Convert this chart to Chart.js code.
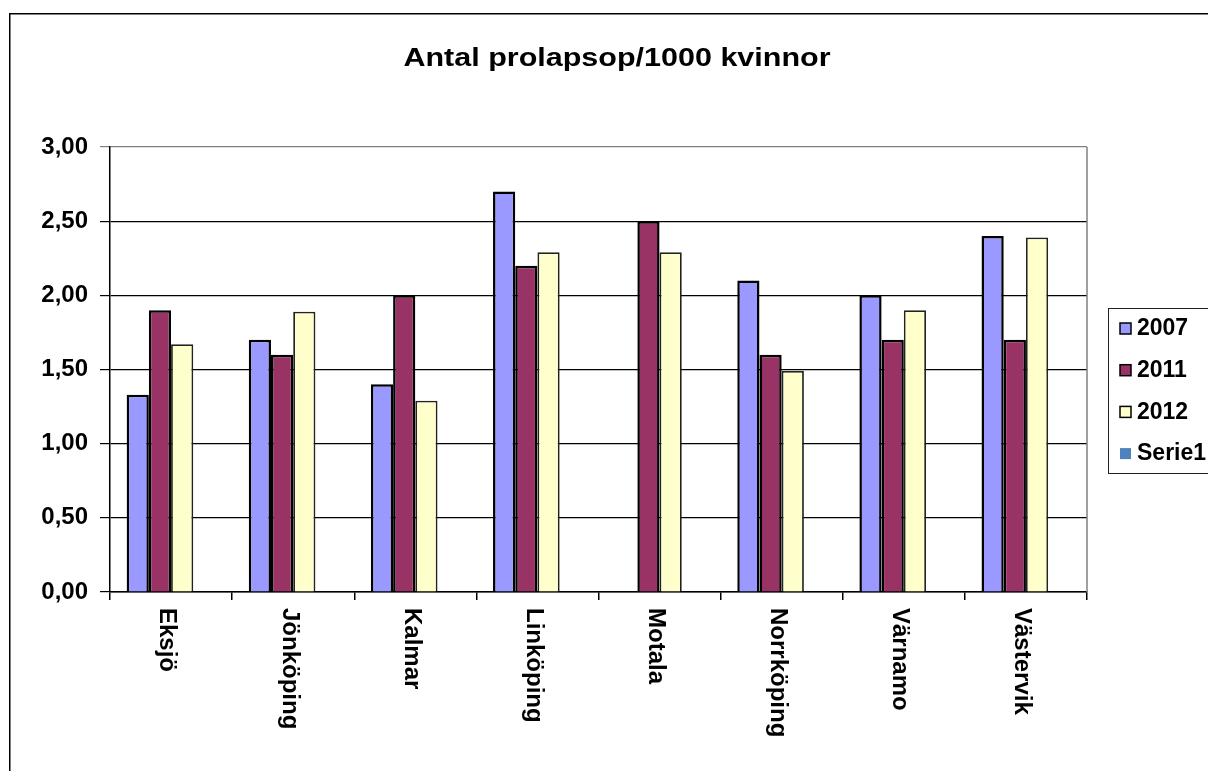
<!DOCTYPE html>
<html>
<head>
<meta charset="utf-8">
<title>Antal prolapsop/1000 kvinnor</title>
<script src="https://cdn.jsdelivr.net/npm/chart.js@4.4.1/dist/chart.umd.min.js"></script>
<style>
  body { margin: 0; background: #fff; }
  #wrap { width: 1208px; height: 771px; }
</style>
</head>
<body>
<div id="wrap"><canvas id="prolapsChart"></canvas></div>
<script>
// data
const chartTitle = 'Antal prolapsop/1000 kvinnor';
const clinics = ['Eksjö', 'Jönköping', 'Kalmar', 'Linköping', 'Motala', 'Norrköping', 'Värnamo', 'Västervik'];
const values2007 = [1.33, 1.70, 1.40, 2.70, null, 2.10, 2.00, 2.40];
const values2011 = [1.90, 1.60, 2.00, 2.20, 2.50, 1.60, 1.70, 1.70];
const values2012 = [1.67, 1.89, 1.29, 2.29, 2.29, 1.49, 1.90, 2.39];
const valuesSerie1 = [null, null, null, null, null, null, null, null]; // empty series, still takes a slot
const yMin = 0;
const yMax = 3;
const yStep = 0.5;

const FONT = "'Liberation Sans', Arial, sans-serif";

// draws the bits Excel has that Chart.js doesn't: frame, title, downward labels, boxed legend
const excelExtras = {
  id: 'excelExtras',
  afterDraw(chart) {
    const ctx = chart.ctx;
    const area = chart.chartArea;
    const xScale = chart.scales.x;
    ctx.save();

    // outer chart frame (cut off at right and bottom)
    ctx.strokeStyle = '#000';
    ctx.lineWidth = 1.5;
    ctx.beginPath();
    ctx.moveTo(9.75, 771);
    ctx.lineTo(9.75, 13.75);
    ctx.lineTo(1208, 13.75);
    ctx.stroke();

    // plot area right border
    ctx.strokeStyle = '#808080';
    ctx.lineWidth = 1.5;
    ctx.beginPath();
    ctx.moveTo(area.right, area.top);
    ctx.lineTo(area.right, area.bottom);
    ctx.stroke();

    // title, a bit wide like the original
    ctx.fillStyle = '#000';
    ctx.font = 'bold 25px ' + FONT;
    ctx.textAlign = 'center';
    ctx.textBaseline = 'alphabetic';
    ctx.save();
    ctx.translate(617, 66);
    ctx.scale(1.22, 1);
    ctx.fillText(chartTitle, 0, 0);
    ctx.restore();

    // category labels, read top to bottom
    ctx.font = 'bold 24px ' + FONT;
    ctx.textAlign = 'left';
    ctx.textBaseline = 'middle';
    clinics.forEach((name, i) => {
      const x = xScale.getPixelForValue(i) - 4;
      ctx.save();
      ctx.translate(x, area.bottom + 16);
      ctx.rotate(Math.PI / 2);
      ctx.fillText(name, 0, 0);
      ctx.restore();
    });

    // legend box
    ctx.strokeStyle = '#222';
    ctx.lineWidth = 1;
    ctx.strokeRect(1108.5, 308.5, 120, 165);
    ctx.font = 'bold 23px ' + FONT;
    chart.data.datasets.forEach((ds, i) => {
      const y = 328 + i * 41.7;
      ctx.fillStyle = ds.backgroundColor;
      ctx.fillRect(1120, y - 5, 11, 11);
      if (ds.borderWidth > 0) {
        ctx.strokeStyle = '#000';
        ctx.lineWidth = 1.5;
        ctx.strokeRect(1120, y - 5, 11, 11);
      }
      ctx.fillStyle = '#000';
      ctx.fillText(ds.label, 1137, y + 1);
    });

    ctx.restore();
  }
};

const ctx = document.getElementById('prolapsChart').getContext('2d');
const prolapsChart = new Chart(ctx, {
  type: 'bar',
  data: {
    labels: clinics,
    datasets: [
      { label: '2007', data: values2007, backgroundColor: '#9999FF', borderColor: '#000', borderWidth: 2.5 },
      { label: '2011', data: values2011, backgroundColor: '#993366', borderColor: '#000', borderWidth: 2.5 },
      { label: '2012', data: values2012, backgroundColor: '#FFFFCC', borderColor: '#222', borderWidth: 1.8 },
      { label: 'Serie1', data: valuesSerie1, backgroundColor: '#4F81BD', borderColor: '#4F81BD', borderWidth: 0 }
    ]
  },
  options: {
    responsive: true,
    maintainAspectRatio: false,
    animation: false,
    datasets: {
      bar: { categoryPercentage: 4 / 5.5, barPercentage: 1 }
    },
    layout: {
      padding: { top: 147, right: 121, bottom: 0, left: 0 }
    },
    plugins: {
      legend: { display: false },
      title: { display: false },
      tooltip: { enabled: false }
    },
    scales: {
      x: {
        type: 'category',
        offset: true,
        ticks: { display: false },
        grid: { drawOnChartArea: false, drawTicks: true, tickLength: 8, color: '#000', lineWidth: 1.5 },
        border: { display: true, color: '#000', width: 1.5 },
        afterFit: scale => { scale.height = 179; }
      },
      y: {
        min: yMin,
        max: yMax,
        ticks: {
          stepSize: yStep,
          padding: 12,
          color: '#000',
          font: { family: FONT, size: 24, weight: 'bold' },
          callback: value => value.toFixed(2).replace('.', ',')
        },
        grid: {
          color: c => (c.tick && c.tick.value === yMax ? '#808080' : '#000'),
          lineWidth: 1.2,
          tickLength: 10
        },
        border: { display: true, color: '#000', width: 1.5 },
        afterFit: scale => { scale.width = 110; }
      }
    }
  },
  plugins: [excelExtras]
});
</script>
</body>
</html>
